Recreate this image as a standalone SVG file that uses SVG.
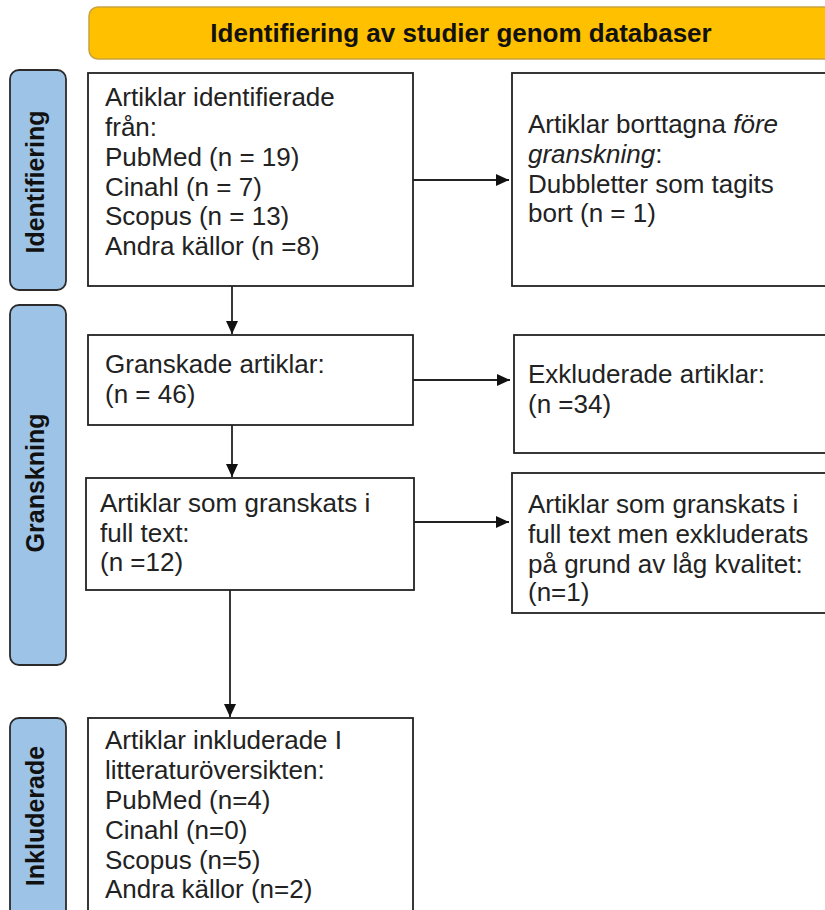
<svg xmlns="http://www.w3.org/2000/svg" width="825" height="910" viewBox="0 0 825 910">
<defs>
<style>
.box{fill:#ffffff;stroke:#222222;stroke-width:1.8}
.side{fill:#9dc3e6;stroke:#2b2b2b;stroke-width:1.8}
.hdr{fill:#ffc000;stroke:#c9a23c;stroke-width:1.5}
.t{font-family:"Liberation Sans",Arial,Helvetica,sans-serif;font-size:26px;fill:#222222}
.b{font-family:"Liberation Sans",Arial,Helvetica,sans-serif;font-size:25px;font-weight:bold;fill:#111111}
.hb{font-family:"Liberation Sans",Arial,Helvetica,sans-serif;font-size:26px;font-weight:bold;fill:#111111}
.c{stroke:#222222;stroke-width:1.8;fill:none}
</style>
<marker id="ah" markerUnits="userSpaceOnUse" markerWidth="14" markerHeight="14" viewBox="0 0 14 14" refX="13" refY="7" orient="auto">
<path d="M0,1 L13,7 L0,13 Z" fill="#111111"/>
</marker>
</defs>
<g id="header">
<rect class="hdr" x="89" y="7" width="760" height="52" rx="9"/>
<text class="hb" x="461" y="42" text-anchor="middle">Identifiering av studier genom databaser</text>
</g>
<g id="side-identifiering">
<rect class="side" x="10" y="70" width="56" height="220" rx="9"/>
<text class="b" transform="translate(44,182) rotate(-90)" text-anchor="middle">Identifiering</text>
</g>
<g id="side-granskning">
<rect class="side" x="10" y="305" width="56" height="360" rx="9"/>
<text class="b" transform="translate(44,483) rotate(-90)" text-anchor="middle">Granskning</text>
</g>
<g id="side-inkluderade">
<rect class="side" x="10" y="718" width="56" height="210" rx="9"/>
<text class="b" transform="translate(44,816) rotate(-90)" text-anchor="middle">Inkluderade</text>
</g>
<g id="box-identified">
<rect class="box" x="88" y="73" width="325" height="213"/>
<text class="t" x="105" y="106">Artiklar identifierade</text>
<text class="t" x="105" y="136">från:</text>
<text class="t" x="105" y="166">PubMed (n = 19)</text>
<text class="t" x="105" y="196">Cinahl (n = 7)</text>
<text class="t" x="105" y="225">Scopus (n = 13)</text>
<text class="t" x="105" y="255">Andra källor (n =8)</text>
</g>
<g id="box-removed">
<rect class="box" x="512" y="73" width="340" height="213"/>
<text class="t" x="528" y="133">Artiklar borttagna <tspan font-style="italic">före</tspan></text>
<text class="t" x="528" y="163"><tspan font-style="italic">granskning</tspan>:</text>
<text class="t" x="528" y="193">Dubbletter som tagits</text>
<text class="t" x="528" y="222">bort (n = 1)</text>
</g>
<g id="box-screened">
<rect class="box" x="88" y="335" width="325" height="90"/>
<text class="t" x="105" y="373">Granskade artiklar:</text>
<text class="t" x="105" y="403">(n = 46)</text>
</g>
<g id="box-excluded">
<rect class="box" x="514" y="335" width="340" height="118"/>
<text class="t" x="528" y="383">Exkluderade artiklar:</text>
<text class="t" x="528" y="413">(n =34)</text>
</g>
<g id="box-fulltext">
<rect class="box" x="86" y="478" width="328" height="112"/>
<text class="t" x="100" y="512">Artiklar som granskats i</text>
<text class="t" x="100" y="542">full text:</text>
<text class="t" x="100" y="571">(n =12)</text>
</g>
<g id="box-lowquality">
<rect class="box" x="512" y="473" width="340" height="140"/>
<text class="t" x="528" y="513">Artiklar som granskats i</text>
<text class="t" x="528" y="543">full text men exkluderats</text>
<text class="t" x="528" y="573">på grund av låg kvalitet:</text>
<text class="t" x="528" y="601">(n=1)</text>
</g>
<g id="box-included">
<rect class="box" x="88" y="718" width="325" height="220"/>
<text class="t" x="105" y="749">Artiklar inkluderade I</text>
<text class="t" x="105" y="779">litteraturöversikten:</text>
<text class="t" x="105" y="809">PubMed (n=4)</text>
<text class="t" x="105" y="839">Cinahl (n=0)</text>
<text class="t" x="105" y="869">Scopus (n=5)</text>
<text class="t" x="105" y="898">Andra källor (n=2)</text>
</g>
<g id="connectors">
<line class="c" x1="413" y1="180" x2="509" y2="180" marker-end="url(#ah)"/>
<line class="c" x1="232" y1="286" x2="232" y2="334" marker-end="url(#ah)"/>
<line class="c" x1="413" y1="380" x2="510" y2="380" marker-end="url(#ah)"/>
<line class="c" x1="232" y1="425" x2="232" y2="477" marker-end="url(#ah)"/>
<line class="c" x1="414" y1="522" x2="509" y2="522" marker-end="url(#ah)"/>
<line class="c" x1="230" y1="590" x2="230" y2="717" marker-end="url(#ah)"/>
</g>
</svg>
